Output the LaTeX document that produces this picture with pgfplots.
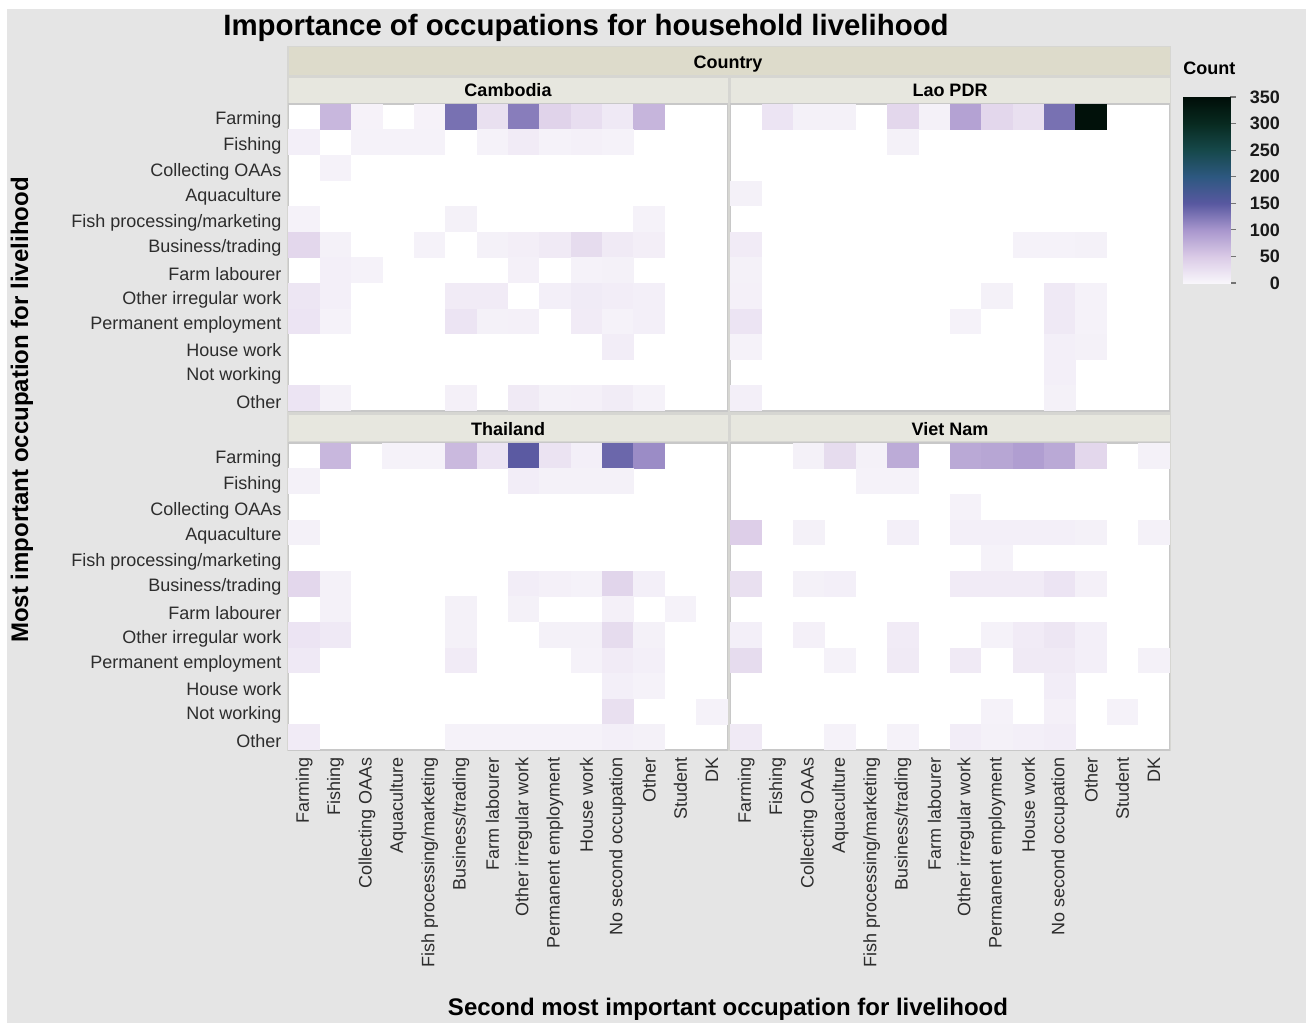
\documentclass[border=0pt]{standalone}
\usepackage{fontspec}
\setmainfont{Liberation Sans}
\usepackage{pgfplots}
\pgfplotsset{compat=1.18}

\definecolor{bgray}{RGB}{229,229,229}
\definecolor{facetgap}{RGB}{214,214,210}
\definecolor{stripA}{RGB}{221,219,203}
\definecolor{stripB}{RGB}{231,231,223}
\definecolor{frame}{RGB}{200,200,200}
\definecolor{txt}{RGB}{45,45,45}

\newcommand\tickfont{\fontsize{9}{10}\selectfont}
\newcommand\stripfont{\fontsize{9}{10}\selectfont\bfseries}

% one heatmap cell, in canvas units (panel 219.5pt x 153.5pt, 14 x 12 cells)
\pgfdeclareplotmark{cell}{%
  \pgfpathrectangle{\pgfpoint{-7.9pt}{-6.45pt}}{\pgfpoint{15.8pt}{12.9pt}}%
  \pgfusepathqfill}

\pgfplotsset{
  colormap={jmp}{rgb255=(248,246,251) rgb255=(218,202,230) rgb255=(168,150,205)
    rgb255=(88,88,160) rgb255=(45,88,128) rgb255=(22,72,74) rgb255=(8,42,32)
    rgb255=(0,14,8)},
  panel/.style={
    scale only axis, width=219.5pt, height=153.5pt, anchor=north west,
    xmin=-0.5, xmax=13.5, ymin=-0.5, ymax=11.5, y dir=reverse,
    axis background/.style={fill=white},
    axis line style={draw=frame, line width=0.8pt},
    xtick={0,...,13}, ytick={0,...,11},
    major tick length=0pt,
    xticklabels={}, yticklabels={},
    tick label style={font=\tickfont, text=txt},
    yticklabel style={yshift=-1.75pt},
    colormap name=jmp, point meta min=0, point meta max=350,
  },
  leftpanel/.style={
    yticklabels={Farming,Fishing,Collecting OAAs,Aquaculture,
      Fish processing/marketing,Business/trading,Farm labourer,
      Other irregular work,Permanent employment,House work,Not working,Other},
  },
  bottompanel/.style={
    xticklabels={Farming,Fishing,Collecting OAAs,Aquaculture,
      Fish processing/marketing,Business/trading,Farm labourer,
      Other irregular work,Permanent employment,House work,
      No second occupation,Other,Student,DK},
    xticklabel style={rotate=90, anchor=east},
  },
  cells/.style={scatter, only marks, mark=cell, point meta=explicit},
}

\begin{document}
\begin{tikzpicture}
\begin{scope}[x=0.5pt, y=-0.5pt]
  \fill[white] (0,0) rectangle (1306,1023);
  \fill[bgray] (7,9) rectangle (1306,1023);
  \fill[facetgap] (287,46) rectangle (1171,751);
\end{scope}

% Cambodia
\begin{axis}[panel, leftpanel, at={(144.25pt,-52pt)}]
\addplot[cells] table[meta=c] {
x y c
1 0 68
2 0 4
4 0 4
5 0 130
6 0 25
7 0 120
8 0 40
9 0 27
10 0 15
11 0 70
0 1 8
2 1 5
3 1 5
4 1 5
6 1 5
7 1 12
8 1 5
9 1 7
10 1 5
1 2 5
0 4 5
5 4 6
11 4 5
0 5 35
1 5 6
4 5 5
6 5 6
7 5 9
8 5 14
9 5 30
10 5 14
11 5 9
1 6 8
2 6 5
7 6 7
9 6 5
10 6 6
0 7 18
1 7 8
5 7 12
6 7 12
8 7 8
9 7 13
10 7 10
11 7 8
0 8 20
1 8 5
5 8 20
6 8 6
7 8 7
9 8 12
10 8 5
11 8 8
10 9 10
0 11 20
1 11 6
5 11 7
7 11 14
8 11 6
9 11 7
10 11 11
11 11 5
};
\end{axis}

% Lao PDR
\begin{axis}[panel, at={(365.25pt,-52pt)}]
\addplot[cells] table[meta=c] {
x y c
1 0 20
2 0 6
3 0 6
5 0 35
6 0 6
7 0 88
8 0 35
9 0 25
10 0 130
11 0 345
5 1 6
0 3 6
0 5 12
9 5 5
10 5 5
11 5 6
0 6 6
0 7 7
8 7 6
10 7 15
11 7 5
0 8 20
7 8 5
10 8 15
11 8 5
0 9 5
10 9 8
11 9 6
10 10 8
0 11 8
10 11 6
};
\end{axis}

% Thailand
\begin{axis}[panel, leftpanel, bottompanel, at={(144.25pt,-221.5pt)}]
\addplot[cells] table[meta=c] {
x y c
1 0 68
3 0 5
4 0 5
5 0 66
6 0 20
7 0 148
8 0 22
9 0 8
10 0 138
11 0 108
0 1 6
7 1 10
8 1 6
9 1 6
10 1 6
0 3 6
0 5 35
1 5 6
7 5 10
8 5 7
9 5 5
10 5 38
11 5 8
1 6 6
5 6 6
7 6 6
10 6 7
12 6 5
0 7 20
1 7 15
5 7 6
8 7 6
9 7 6
10 7 30
11 7 6
0 8 15
5 8 12
9 8 5
10 8 12
11 8 8
10 9 8
11 9 5
10 10 25
13 10 5
0 11 12
5 11 5
6 11 5
7 11 5
8 11 5
9 11 5
10 11 8
11 11 6
};
\end{axis}

% Viet Nam
\begin{axis}[panel, bottompanel, at={(365.25pt,-221.5pt)}]
\addplot[cells] table[meta=c] {
x y c
2 0 6
3 0 30
4 0 6
5 0 80
7 0 82
8 0 85
9 0 92
10 0 82
11 0 35
13 0 6
4 1 5
5 1 5
7 2 5
0 3 45
2 3 6
5 3 8
7 3 8
8 3 8
9 3 8
10 3 8
11 3 6
13 3 6
8 4 5
0 5 25
2 5 6
3 5 8
7 5 12
8 5 12
9 5 12
10 5 20
11 5 7
0 7 8
2 7 7
5 7 12
8 7 5
9 7 12
10 7 18
11 7 8
0 8 30
3 8 5
5 8 14
7 8 14
9 8 14
10 8 14
11 8 8
13 8 6
10 9 10
8 10 5
10 10 7
12 10 5
0 11 14
3 11 5
5 11 5
7 11 10
8 11 6
9 11 8
10 11 10
};
\end{axis}

% colour scale
\begin{axis}[scale only axis, width=23.5pt, height=93pt, anchor=north west,
  at={(591.5pt,-48.5pt)},
  xmin=0, xmax=1, ymin=0, ymax=350,
  axis line style={draw=none}, xtick=\empty,
  ytick={0,50,...,350}, ytick pos=right,
  major tick length=3pt, tick align=outside,
  tick style={draw=black!55, line width=0.6pt},
  yticklabel style={font=\stripfont, text=black!90, anchor=east, xshift=25.5pt},
  /pgf/number format/assume math mode=true,
  colormap name=jmp, point meta min=0, point meta max=350]
\addplot[surf, shader=interp, mesh/cols=2, point meta=y]
  coordinates {(0,0) (1,0) (0,350) (1,350)};
\end{axis}

\begin{scope}[x=0.5pt, y=-0.5pt]
  \fill[stripA] (288.5,46.5) rectangle (1169.5,75);
  \fill[stripB] (288.5,77.5) rectangle (727.5,102.5);
  \fill[stripB] (730.5,77.5) rectangle (1169.5,102.5);
  \fill[stripB] (288.5,415) rectangle (727.5,440.5);
  \fill[stripB] (730.5,415) rectangle (1169.5,440.5);
  \node[font=\stripfont] at (728,64.5) {Country};
  \node[font=\stripfont] at (508,90) {Cambodia};
  \node[font=\stripfont] at (950,90) {Lao PDR};
  \node[font=\stripfont] at (508,429) {Thailand};
  \node[font=\stripfont] at (950,429) {Viet Nam};
  \node[font=\fontsize{14.7}{16}\selectfont\bfseries] at (586,28)
    {Importance of occupations for household livelihood};
  \node[font=\fontsize{12}{13}\selectfont\bfseries, rotate=90] at (22,410)
    {Most important occupation for livelihood};
  \node[font=\fontsize{12}{13}\selectfont\bfseries] at (728,1009)
    {Second most important occupation for livelihood};
  \node[font=\stripfont, anchor=west, inner sep=0pt] at (1183,68) {Count};
  \pgfresetboundingbox
  \useasboundingbox (0,0) rectangle (1306,1023);
\end{scope}
\end{tikzpicture}
\end{document}
